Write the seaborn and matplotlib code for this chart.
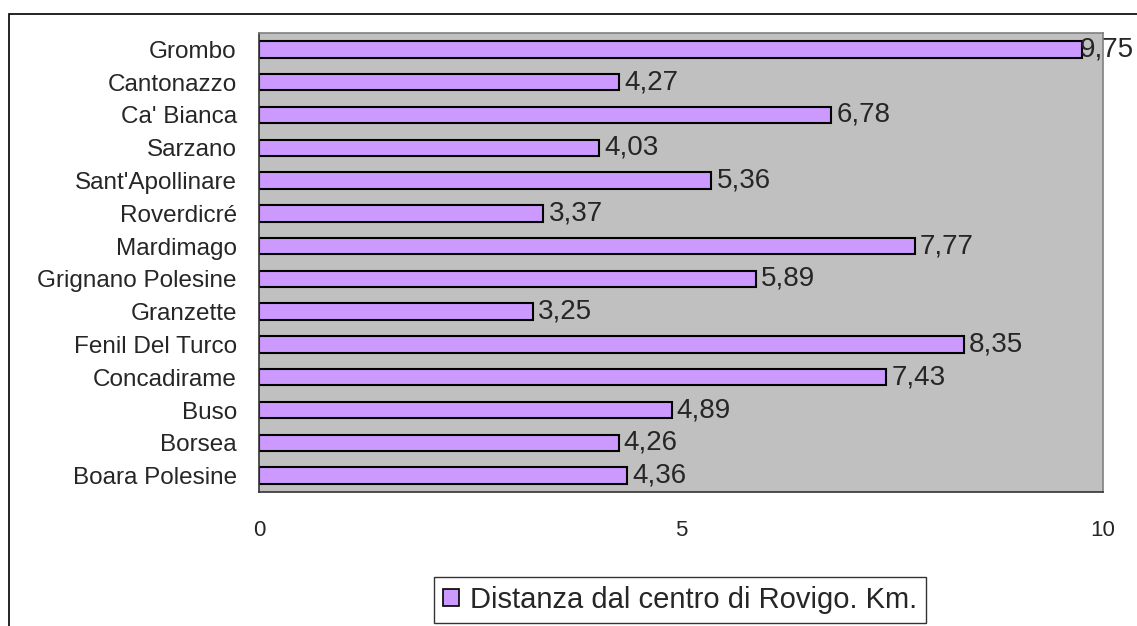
import numpy as np
import pandas as pd
import matplotlib
matplotlib.use("Agg")
import matplotlib.pyplot as plt
from matplotlib.patches import Rectangle
import seaborn as sns

# Dati: distanza dal centro di Rovigo (km)
frazioni = ["Grombo", "Cantonazzo", "Ca' Bianca", "Sarzano", "Sant'Apollinare",
            "Roverdicré", "Mardimago", "Grignano Polesine", "Granzette",
            "Fenil Del Turco", "Concadirame", "Buso", "Borsea", "Boara Polesine"]
distanze = [9.75, 4.27, 6.78, 4.03, 5.36, 3.37, 7.77, 5.89, 3.25,
            8.35, 7.43, 4.89, 4.26, 4.36]
serie = "Distanza dal centro di Rovigo. Km."
x_ticks = [0, 5, 10]

df = pd.DataFrame({"frazione": frazioni, "km": distanze})

sns.set_style("white")
plt.rcParams["font.family"] = ["Liberation Sans", "DejaVu Sans"]

W, H = 1137, 626
fig = plt.figure(figsize=(W / 100, H / 100), dpi=100)
ax = fig.add_axes([259 / W, 1 - 492 / H, (1103 - 259) / W, (492 - 33) / H])

sns.barplot(data=df, x="km", y="frazione", orient="h", ax=ax,
            color="#CC99FF", edgecolor="black", linewidth=1.5, width=0.5,
            saturation=1)
ax.set_facecolor("#C0C0C0")
ax.set_xlim(0, 10)

# etichette valori (come in Excel, quella che esce dal bordo viene spostata a sinistra)
x_max = ax.get_xlim()[1]
for i, v in enumerate(distanze):
    ax.text(min(v + 0.06, x_max - 0.27), i, f"{v:.2f}".replace(".", ","),
            va="center", ha="left", fontsize=20, clip_on=False)

ax.set_ylim(len(frazioni) - 0.5, -0.5)
ax.set_xticks(x_ticks)
ax.set_xticklabels([str(t) for t in x_ticks], fontsize=16)
ax.set_yticks(range(len(frazioni)))
ax.set_yticklabels(frazioni, fontsize=17.5)
ax.set_yticks(np.arange(-0.5, len(frazioni)), minor=True)
ax.tick_params(axis="y", which="major", length=0, pad=16)
ax.tick_params(axis="y", which="minor", length=6, width=1, color="#333333", direction="out")
ax.tick_params(axis="x", length=6, width=1, color="#333333", direction="out", pad=14)
ax.set_xlabel("")
ax.set_ylabel("")

for s in ["left", "bottom"]:
    ax.spines[s].set_color("#333333")
    ax.spines[s].set_linewidth(1.2)
for s in ["top", "right"]:
    ax.spines[s].set_color("#808080")
    ax.spines[s].set_linewidth(1.2)

# legenda
handle = Rectangle((0, 0), 1, 1, facecolor="#CC99FF", edgecolor="black", linewidth=1.2)
leg = fig.legend([handle], [serie], loc="center", bbox_to_anchor=(680 / W, 1 - 600 / H),
                 fontsize=21, frameon=True, fancybox=False, edgecolor="black",
                 handlelength=0.55, handleheight=0.55, handletextpad=0.4,
                 borderpad=0.3, borderaxespad=0)
leg.get_frame().set_linewidth(1)

# bordo esterno del grafico
fig.patches.append(Rectangle((9 / W, -0.1), 2, 1.1 - 14 / H, transform=fig.transFigure,
                             fill=False, edgecolor="black", linewidth=1.2))

fig.savefig("out.png", dpi=100)
